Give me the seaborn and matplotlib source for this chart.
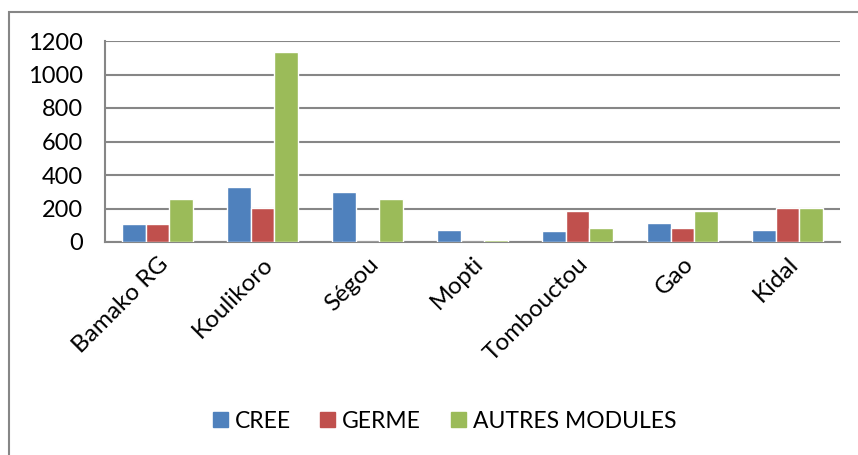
import pandas as pd
import matplotlib.pyplot as plt
import seaborn as sns
from matplotlib.patches import Rectangle
from matplotlib.ticker import MultipleLocator, FixedLocator

# Data
regions = ["Bamako RG", "Koulikoro", "Ségou", "Mopti", "Tombouctou", "Gao", "Kidal"]
cree = [110, 326, 296, 72, 63, 115, 73]
germe = [108, 202, 0, 0, 186, 83, 204]
autres = [254, 1136, 258, 14, 85, 188, 204]
series = ["CREE", "GERME", "AUTRES MODULES"]
colors = ["#4F81BD", "#C0504D", "#9BBB59"]

df = pd.DataFrame({"region": regions, "CREE": cree, "GERME": germe, "AUTRES MODULES": autres})
long_df = df.melt(id_vars="region", var_name="serie", value_name="valeur")

sns.set_style("white")
plt.rcParams["font.family"] = ["Lato", "DejaVu Sans"]
plt.rcParams["text.color"] = "black"
plt.rcParams["xtick.color"] = "black"
plt.rcParams["ytick.color"] = "black"

fig = plt.figure(figsize=(8.58, 4.55), dpi=100)
ax = fig.add_axes([105 / 858, 1 - 242 / 455, (840 - 105) / 858, (242 - 41) / 455])

sns.barplot(data=long_df, x="region", y="valeur", hue="serie", hue_order=series,
            palette=colors, width=0.67, saturation=1, ax=ax, zorder=3)

ax.set_ylim(0, 1200)
ax.set_xlim(-0.5, len(regions) - 0.5)
ax.yaxis.set_major_locator(MultipleLocator(200))
ax.grid(axis="y", color="#868686", linewidth=1.5, zorder=0)
ax.set_xlabel("")
ax.set_ylabel("")

for side in ["top", "right"]:
    ax.spines[side].set_visible(False)
for side in ["left", "bottom"]:
    ax.spines[side].set_color("#868686")
    ax.spines[side].set_linewidth(1.5)

ax.tick_params(axis="y", length=7, width=1.5, color="#868686", labelsize=17, pad=9)
ax.tick_params(axis="x", which="major", length=0, labelsize=17.5, pad=8)
ax.xaxis.set_minor_locator(FixedLocator([i - 0.5 for i in range(len(regions) + 1)]))
ax.tick_params(axis="x", which="minor", length=7, width=1.5, color="#868686")
for lab in ax.get_xticklabels():
    lab.set_rotation(45)
    lab.set_ha("right")
    lab.set_rotation_mode("anchor")

ax.legend_.remove()
handles = [Rectangle((0, 0), 1, 1, color=c) for c in colors]
fig.legend(handles, series, loc="center", bbox_to_anchor=(0.518, 1 - 421 / 455), ncol=3,
           frameon=False, fontsize=16.5, handlelength=0.65, handleheight=0.65,
           handletextpad=0.3, columnspacing=1.3)

# outer chart frame
fig.patches.append(Rectangle((9 / 858, -0.1), 1.2, 1.1 - 12 / 455, transform=fig.transFigure,
                             fill=False, edgecolor="#868686", linewidth=1.5))

fig.savefig("out.png", dpi=100)
